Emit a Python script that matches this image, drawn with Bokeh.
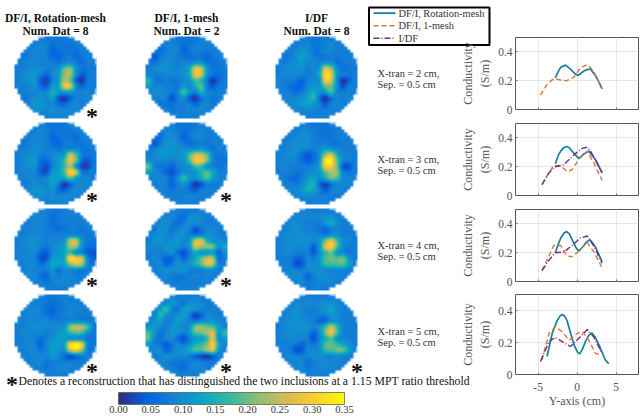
import numpy as np
from bokeh.plotting import figure
from bokeh.models import Range1d, LinearColorMapper, ColorBar, FixedTicker, NumeralTickFormatter
from bokeh.layouts import column
from bokeh.core.properties import value
from bokeh.embed import file_html
from bokeh.resources import INLINE

# ------------------------------------------------------------------ data
column_titles = ["DF/I, Rotation-mesh", "DF/I, 1-mesh", "I/DF"]
column_subtitles = ["Num. Dat = 8", "Num. Dat = 2", "Num. Dat = 8"]
row_labels = [["X-tran = 2 cm,", "Sep. = 0.5 cm"], ["X-tran = 3 cm,", "Sep. = 0.5 cm"],
              ["X-tran = 4 cm,", "Sep. = 0.5 cm"], ["X-tran = 5 cm,", "Sep. = 0.5 cm"]]
footnote = "Denotes a reconstruction that has distinguished the two inclusions at a 1.15 MPT ratio threshold"
colorbar_ticks = [0.00, 0.05, 0.10, 0.15, 0.20, 0.25, 0.30, 0.35]
series_names = ["DF/I, Rotation-mesh", "DF/I, 1-mesh", "I/DF"]

# conductivity reconstructions, in 0.01 S/m, top row first
disk_r1c1 = [
[8,8,8,8,8,7,7,7,7,8,8,8,8,8],[8,8,8,8,9,8,6,7,7,7,8,8,8,8],
[8,8,8,9,9,8,5,6,7,7,6,8,8,8],[8,7,8,9,9,8,6,5,7,8,6,7,8,8],
[8,8,9,9,8,8,8,7,9,10,8,6,8,8],[8,8,9,10,9,8,9,10,19,22,11,7,7,8],
[8,9,11,11,8,5,9,12,22,23,10,4,7,8],[8,9,10,10,4,2,8,12,23,20,5,1,7,8],
[8,8,9,10,6,4,11,13,27,27,10,5,8,8],[8,8,9,9,9,9,15,11,12,12,9,9,9,8],
[8,7,8,10,10,9,12,4,1,5,8,8,9,8],[8,8,9,11,11,9,9,6,5,8,9,8,8,8],
[8,8,9,10,10,9,10,9,9,9,9,8,8,8],[8,8,8,9,8,8,9,9,9,8,8,8,8,8]]
disk_r2c1 = [
[8,8,8,8,8,7,7,7,7,8,8,8,8,8],[8,8,8,8,9,8,6,7,7,7,8,8,8,8],
[8,8,8,9,9,8,5,6,7,7,6,8,8,8],[8,7,8,9,9,8,6,5,7,8,7,7,8,8],
[8,8,9,10,9,8,8,7,8,9,9,7,7,8],[8,9,10,10,8,8,9,10,12,25,18,8,7,8],
[8,9,11,11,6,5,9,12,17,28,20,6,4,7],[8,9,10,10,5,3,8,12,17,24,11,2,2,7],
[8,9,9,9,4,3,11,13,18,31,26,8,7,8],[8,8,9,9,8,9,13,12,13,19,12,9,9,8],
[8,8,8,10,9,9,12,8,1,5,9,9,9,8],[8,8,9,11,11,9,10,6,4,8,9,9,8,8],
[8,8,9,10,10,9,10,9,9,9,9,8,8,8],[8,8,8,9,8,8,9,9,9,8,8,8,8,8]]
disk_r3c1 = [
[8,8,8,8,8,8,7,7,8,8,8,8,8,8],[8,8,8,9,9,8,6,7,8,8,8,8,8,8],
[8,8,8,9,9,8,6,7,8,8,8,8,8,8],[8,8,8,9,9,8,7,6,7,8,8,7,8,8],
[8,8,9,9,9,8,8,8,8,9,9,8,7,8],[8,9,10,10,9,8,9,9,11,24,25,11,7,7],
[8,9,10,10,8,7,9,11,13,23,22,10,6,6],[8,8,9,9,5,4,9,11,13,17,10,8,4,3],
[8,9,9,8,3,4,11,12,14,32,29,26,9,5],[8,8,9,9,6,8,13,13,13,22,26,24,9,7],
[8,8,9,9,8,8,11,6,9,9,9,8,8,8],[8,8,9,9,6,5,9,8,9,9,8,8,8,8],
[8,8,8,8,8,7,8,9,9,9,8,8,8,8],[8,8,8,8,8,8,8,8,8,8,8,8,8,8]]
disk_r4c1 = [
[8,8,8,8,8,7,7,8,8,8,8,8,8,8],[8,8,8,8,8,7,6,7,8,8,8,8,8,8],
[8,8,9,9,8,6,5,7,8,9,8,8,8,8],[8,8,9,9,8,7,6,7,8,9,8,8,8,8],
[8,8,9,9,9,9,8,8,8,9,9,8,8,8],[8,8,9,10,10,9,9,10,11,21,24,23,18,8],
[8,9,9,9,9,8,9,11,12,17,19,18,10,7],[8,8,9,8,6,8,10,12,11,10,10,9,7,7],
[8,8,9,8,5,9,12,12,13,31,35,29,9,7],[8,8,9,9,7,9,12,11,10,25,30,22,8,7],
[8,8,8,9,9,9,11,9,6,3,6,8,8,8],[8,8,8,9,9,7,8,8,8,8,8,8,8,8],
[8,8,8,8,8,7,8,9,9,9,8,8,8,8],[8,8,8,8,8,8,8,8,8,8,8,8,8,8]]
disk_r1c2 = [
[8,8,8,8,8,7,7,7,7,8,8,8,8,8],[8,8,7,8,9,8,6,7,8,8,8,8,8,8],
[8,7,6,8,9,8,5,7,8,8,7,8,8,8],[7,3,7,9,9,8,7,6,7,7,5,7,8,8],
[7,7,9,10,9,8,9,9,11,11,7,6,7,8],[8,9,11,10,9,9,10,14,27,25,11,7,7,8],
[9,8,8,9,9,9,10,14,28,26,11,7,6,7],[16,8,7,8,7,7,9,11,18,16,7,1,5,8],
[12,9,9,8,8,7,11,9,14,19,8,4,7,8],[8,9,10,9,7,9,18,11,8,15,9,8,8,8],
[7,8,9,8,3,7,10,4,1,6,9,7,8,8],[8,8,7,7,6,8,8,8,5,8,9,7,8,8],
[8,8,8,8,7,8,8,9,9,9,8,8,8,8],[8,8,8,8,8,8,8,8,8,8,8,8,8,8]]
disk_r2c2 = [
[8,8,8,8,8,7,7,7,8,8,8,8,8,8],[8,8,7,9,9,8,6,7,8,9,8,8,8,8],
[8,7,6,9,10,8,5,7,9,9,8,8,8,8],[7,3,7,10,11,9,7,6,7,8,7,8,8,8],
[7,8,10,11,11,10,10,9,10,11,9,7,8,8],[8,9,11,11,10,10,11,18,25,25,19,9,7,8],
[10,9,9,9,8,9,11,18,29,29,21,9,7,7],[20,9,7,7,5,8,9,11,17,17,10,8,7,8],
[12,9,8,5,3,6,10,10,11,15,19,14,9,8],[8,9,9,8,5,10,17,11,10,14,18,12,9,8],
[7,8,9,8,5,8,10,7,1,3,8,8,8,8],[8,8,8,8,7,8,8,6,4,8,8,8,8,8],
[8,8,8,8,8,8,8,9,8,8,8,8,8,8],[8,8,8,8,8,8,8,8,8,8,8,8,8,8]]
disk_r3c2 = [
[8,8,8,8,8,8,7,8,8,8,8,8,8,8],[8,8,8,9,9,7,6,9,10,9,8,8,8,8],
[8,8,9,10,8,6,8,10,10,9,8,8,8,8],[8,7,10,10,7,8,10,8,3,7,9,9,8,8],
[8,9,11,9,8,10,10,8,7,8,10,10,8,8],[8,10,11,9,10,11,9,11,25,27,15,11,10,9],
[9,9,9,10,11,10,8,11,26,23,22,20,10,14],[8,8,8,9,10,6,3,8,14,12,11,12,5,10],
[8,9,8,5,5,9,5,9,14,19,24,24,6,9],[8,8,9,5,7,10,9,11,15,19,27,24,9,8],
[8,8,9,10,10,10,11,8,8,8,10,10,8,8],[8,7,8,9,8,7,7,8,9,8,9,8,8,8],
[8,8,8,8,8,7,8,8,8,8,8,8,8,8],[8,8,8,8,8,8,8,8,8,8,8,8,8,8]]
disk_r4c2 = [
[8,8,8,8,8,8,8,8,8,8,8,8,8,8],[8,8,8,10,11,9,7,10,10,9,8,8,8,8],
[8,8,12,17,9,7,11,12,10,9,8,8,8,8],[8,8,16,11,8,10,12,8,2,5,9,9,8,8],
[8,10,12,8,9,12,10,8,7,9,11,11,9,8],[10,12,9,8,11,11,9,10,21,22,20,18,12,9],
[18,11,7,8,11,10,8,11,19,20,23,27,12,17],[19,9,7,9,10,6,3,8,11,12,17,27,10,12],
[11,8,7,4,7,9,7,10,15,17,21,30,14,9],[9,9,10,5,7,10,11,14,18,18,22,26,11,8],
[8,8,9,10,10,9,9,8,5,3,1,5,8,8],[8,8,9,9,7,7,7,8,9,8,7,7,8,8],
[8,8,8,8,8,7,6,8,9,9,8,8,8,8],[8,8,8,8,8,8,8,8,8,8,8,8,8,8]]
disk_r1c3 = [
[8,8,8,8,8,8,7,7,8,8,8,8,8,8],[8,8,8,8,9,9,7,7,8,9,8,8,8,8],
[8,8,8,9,11,10,7,7,9,9,8,8,8,8],[8,7,8,10,13,10,8,7,7,8,7,8,8,8],
[8,8,9,10,11,9,9,9,11,10,7,7,8,8],[8,9,10,10,10,8,9,11,27,22,10,7,7,8],
[8,9,9,9,8,8,9,14,31,28,11,8,7,8],[9,8,8,7,5,8,9,11,29,26,10,1,4,8],
[9,8,6,5,5,9,11,11,19,20,10,3,8,8],[8,8,8,6,8,11,14,10,11,18,9,8,8,8],
[8,8,9,9,10,13,16,6,1,6,9,8,9,8],[8,8,9,10,11,13,11,8,4,8,9,8,8,8],
[8,8,8,9,9,9,9,8,8,8,8,8,8,8],[8,8,8,8,8,8,8,8,8,8,8,8,8,8]]
disk_r2c3 = [
[8,8,8,8,8,8,7,7,7,8,8,8,8,8],[8,8,8,8,9,9,8,7,6,7,8,8,8,8],
[8,8,8,9,10,10,8,7,7,7,8,8,8,8],[8,8,9,10,10,10,8,8,8,7,7,8,8,8],
[8,8,9,10,9,8,8,9,12,11,9,8,8,8],[8,9,10,9,6,4,6,10,22,26,15,9,8,8],
[8,9,9,8,6,4,6,11,32,34,20,9,8,8],[8,9,8,8,8,8,9,13,29,30,20,4,3,8],
[8,8,8,7,7,9,10,11,19,23,22,9,7,8],[8,8,6,5,8,11,13,10,14,20,18,9,9,8],
[8,8,8,7,9,13,15,6,2,6,9,9,9,8],[8,8,9,9,11,15,13,8,4,8,9,8,8,8],
[8,8,8,9,9,10,9,8,8,8,8,8,8,8],[8,8,8,8,8,8,8,8,8,8,8,8,8,8]]
disk_r3c3 = [
[8,8,8,8,8,8,8,8,8,8,8,8,8,8],[8,8,8,9,9,9,9,9,10,11,9,8,8,8],
[8,8,9,10,9,8,8,8,11,14,10,8,8,8],[8,8,9,10,9,8,8,7,5,8,9,8,8,8],
[8,9,10,10,10,9,9,8,8,10,10,8,8,8],[8,9,10,10,10,10,9,11,20,27,18,10,9,8],
[8,9,10,9,9,9,5,11,26,31,19,10,8,8],[8,9,9,8,8,8,4,10,17,20,11,9,7,8],
[8,8,8,5,5,9,8,11,18,20,19,20,11,8],[8,8,8,3,4,9,9,11,17,18,18,19,13,8],
[8,8,9,8,8,9,10,10,9,9,9,9,8,8],[8,8,9,9,9,5,8,10,10,9,9,8,8,8],
[8,8,8,9,9,7,8,9,9,9,8,8,8,8],[8,8,8,8,8,8,8,8,8,8,8,8,8,8]]
disk_r4c3 = [
[8,8,8,8,8,8,8,8,8,8,8,8,8,8],[8,8,8,9,9,9,9,9,10,10,9,8,8,8],
[8,8,9,10,9,8,8,9,11,13,10,8,8,8],[8,8,9,10,9,8,8,8,8,11,10,8,8,8],
[8,9,10,10,10,9,8,5,6,10,10,8,8,8],[8,9,10,10,10,10,9,10,17,25,17,9,8,8],
[8,9,10,9,9,9,5,9,20,28,18,9,8,8],[8,9,9,9,9,8,3,9,14,19,11,9,8,8],
[8,8,8,7,5,8,7,10,18,20,17,13,10,8],[8,8,8,3,4,9,9,10,17,18,20,20,13,8],
[8,8,9,8,8,9,10,10,9,9,10,9,8,8],[8,8,9,9,9,6,8,9,10,9,9,8,8,8],
[8,8,8,9,9,7,8,9,9,9,8,8,8,8],[8,8,8,8,8,8,8,8,8,8,8,8,8,8]]
disks = [[disk_r1c1, disk_r1c2, disk_r1c3], [disk_r2c1, disk_r2c2, disk_r2c3],
         [disk_r3c1, disk_r3c2, disk_r3c3], [disk_r4c1, disk_r4c2, disk_r4c3]]
# which reconstruction carries the star (row, column)
starred = [(0, 0), (1, 0), (2, 0), (3, 0), (1, 1), (2, 1), (3, 1), (3, 2)]

rot_x_1 = [-2.8,-2.4,-2.1,-1.5,-0.85,-0.3,0.1,0.45,0.85,1.3,1.7,2.35,2.8,3.2]
rot_y_1 = [0.22,0.265,0.294,0.308,0.28,0.25,0.236,0.25,0.267,0.277,0.281,0.236,0.19,0.144]
one_x_1 = [-4.7,-3.85,-3.0,-2.1,-1.3,-0.4,0.4,1.3,2.1,3.2]
one_y_1 = [0.10,0.175,0.215,0.205,0.20,0.225,0.287,0.312,0.267,0.144]
idf_x_1 = []
idf_y_1 = []
rot_x_2 = [-2.8,-2.4,-2.1,-1.7,-1.35,-1.0,-0.65,0.2,0.5,0.85,1.5,2.35,3.2]
rot_y_2 = [0.22,0.28,0.308,0.332,0.34,0.332,0.308,0.257,0.27,0.288,0.308,0.25,0.158]
one_x_2 = [-4.5,-3.85,-3.0,-2.1,-1.3,-0.65,0.2,1.3,2.1,3.2]
one_y_2 = [0.076,0.138,0.21,0.205,0.168,0.178,0.25,0.308,0.23,0.107]
idf_x_2 = [-4.5,-3.6,-2.8,-1.7,-0.65,0.4,0.9,1.3,1.7,2.1,3.2]
idf_y_2 = [0.076,0.158,0.20,0.213,0.27,0.32,0.332,0.333,0.31,0.27,0.158]
rot_x_3 = [-2.8,-2.4,-2.1,-1.7,-1.35,-1.0,-0.65,-0.2,0.2,0.85,1.3,1.7,2.35,3.2]
rot_y_3 = [0.20,0.26,0.302,0.335,0.347,0.33,0.292,0.24,0.21,0.25,0.28,0.288,0.24,0.138]
one_x_3 = [-4.5,-3.6,-3.0,-2.1,-1.3,-0.65,0.2,1.3,2.1,3.2]
one_y_3 = [0.076,0.178,0.25,0.25,0.178,0.172,0.21,0.27,0.21,0.096]
idf_x_3 = [-4.5,-3.6,-2.8,-1.7,-0.65,0.4,1.3,2.1,3.2]
idf_y_3 = [0.076,0.148,0.20,0.205,0.25,0.302,0.316,0.25,0.127]
rot_x_4 = [-3.85,-3.2,-2.55,-2.2,-1.9,-1.6,-1.3,-0.4,0.05,0.35,0.7,1.05,1.5,1.9,2.3,2.8,3.6,4.05]
rot_y_4 = [0.113,0.256,0.338,0.365,0.375,0.365,0.338,0.185,0.14,0.129,0.16,0.205,0.245,0.26,0.235,0.185,0.092,0.068]
one_x_4 = [-4.5,-3.6,-2.8,-1.9,-1.05,0.0,0.65,1.5,2.35,3.0]
one_y_4 = [0.092,0.256,0.298,0.267,0.215,0.256,0.27,0.215,0.133,0.123]
idf_x_4 = [-4.7,-3.6,-2.8,-1.9,-0.85,0.0,1.3,2.1,3.2]
idf_y_4 = [0.082,0.205,0.232,0.205,0.175,0.215,0.281,0.236,0.133]
panels = [(rot_x_1, rot_y_1, one_x_1, one_y_1, idf_x_1, idf_y_1),
          (rot_x_2, rot_y_2, one_x_2, one_y_2, idf_x_2, idf_y_2),
          (rot_x_3, rot_y_3, one_x_3, one_y_3, idf_x_3, idf_y_3),
          (rot_x_4, rot_y_4, one_x_4, one_y_4, idf_x_4, idf_y_4)]

# ------------------------------------------------------------------ styling / layout
W, H = 644, 416
SERIF = "Liberation Serif"
anchors = np.array([[53,42,135],[3,99,225],[20,133,212],[6,167,198],[56,185,158],
                    [146,191,115],[217,186,86],[252,206,46],[249,251,14]], float)
t = np.linspace(0, 1, 256)
pal = ["#%02x%02x%02x" % tuple(int(round(np.interp(v, np.linspace(0, 1, 9), anchors[:, c]))) for c in range(3)) for v in t]
mapper = LinearColorMapper(palette=pal, low=0.0, high=0.35, nan_color=(0, 0, 0, 0))

col_cx = [55, 186, 316]
row_cy = [77, 163, 249, 335]
R = 41
star_x = [91.5, 225.5, 356.5]
star_y = [115, 199, 284.5, 370]

main = figure(width=W, height=H, x_range=Range1d(0, W), y_range=Range1d(0, H),
              x_axis_type=None, y_axis_type=None, toolbar_location=None,
              output_backend="svg", min_border=0, outline_line_color=None,
              background_fill_color="white", border_fill_color="white", frame_align=False)
main.grid.visible = False

# display resampling of each coarse grid (cubic convolution) onto screen pixels
def resample(grid, n):
    a = np.asarray(grid, float)
    m0 = a.shape[0]
    pos = (np.arange(n) + 0.5) / n * m0 - 0.5
    i0 = np.floor(pos).astype(int)
    f = pos - i0
    w = [-0.5*f**3 + f**2 - 0.5*f, 1.5*f**3 - 2.5*f**2 + 1, -1.5*f**3 + 2*f**2 + 0.5*f, 0.5*f**3 - 0.5*f**2]
    idx = [np.clip(i0 + k, 0, m0 - 1) for k in (-1, 0, 1, 2)]
    b = sum(w[k][:, None] * a[idx[k], :] for k in range(4))
    c = sum(w[k][None, :] * b[:, idx[k]] for k in range(4))
    return c

# stair-stepped outside-of-disk mask, softened like the reference's edge
PX = 2 * R
N = 28
yy, xx = np.mgrid[0:N, 0:N]
outside = (np.hypot(xx + 0.5 - N / 2, yy + 0.5 - N / 2) > N / 2).astype(float)
rep = np.repeat(np.repeat(outside, 3, axis=0), 3, axis=1)[:PX, :PX]
ker = np.array([1, 2, 1]) / 4.0
soft = np.apply_along_axis(lambda v: np.convolve(np.pad(v, 1, mode="edge"), ker, "valid"), 0, rep)
soft = np.apply_along_axis(lambda v: np.convolve(np.pad(v, 1, mode="edge"), ker, "valid"), 1, soft)
mask = (np.round(soft * 255).astype(np.uint32) << 24) | np.uint32(0x00FFFFFF)
mask = np.where(soft == 0, 0, mask).astype(np.uint32)
cut = soft > 0.99

for r, cy in enumerate(row_cy):
    for c, cx in enumerate(col_cx):
        g = np.clip(np.flipud(resample(disks[r][c], PX)) / 100.0, 0, 0.35)
        g[cut] = np.nan
        main.image(image=[g], x=cx - R, y=H - cy - R, dw=2 * R, dh=2 * R, color_mapper=mapper)
        main.image_rgba(image=[mask], x=cx - R, y=H - cy - R, dw=2 * R, dh=2 * R)

def put(x, y, s, size, bold=False, align="left", color="#222222"):
    main.text(x=[x], y=[H - y], text=[s], text_font=value(SERIF), text_font_size=size,
              text_font_style="bold" if bold else "normal", text_align=align,
              text_baseline="middle", text_color=color)

for c in range(3):
    put(col_cx[c], 17, column_titles[c], "11.5px", True, "center", "#111111")
    put(col_cx[c], 30, column_subtitles[c], "11.5px", True, "center", "#111111")
for r, cy in enumerate(row_cy):
    put(377, cy - 4.5, row_labels[r][0], "10.5px", color="#333333")
    put(377, cy + 6.5, row_labels[r][1], "10.5px", color="#333333")
for r, c in starred:
    put(star_x[c], star_y[r], "*", "24px", True, "center", "#111111")
put(11.5, 383, "*", "24px", True, "center", "#111111")
put(18, 381, footnote, "11.75px", color="#111111")

cb = ColorBar(color_mapper=mapper, orientation="horizontal", location=(118, 1), width=226, height=12,
              ticker=FixedTicker(ticks=colorbar_ticks), padding=0, margin=0,
              major_tick_line_color=None, minor_tick_line_color=None,
              bar_line_color="#555533", bar_line_width=0.7,
              background_fill_alpha=0, border_line_color=None, label_standoff=1,
              major_label_text_font=SERIF, major_label_text_font_size="10.5px",
              major_label_text_color="#333333", formatter=NumeralTickFormatter(format="0.00"))
main.add_layout(cb)

TEAL, ORANGE, PURPLE = "#167f9c", "#d8773c", "#7a2a86"
STYLES = [dict(line_color=TEAL, line_width=1.7),
          dict(line_color=ORANGE, line_width=1.4, line_dash="5 3"),
          dict(line_color=PURPLE, line_width=1.4, line_dash="6 2 1 2")]

# legend key box, to the left of the first panel
main.quad(left=[368.5], right=[489], top=[H - 7], bottom=[H - 44.5], fill_color="white",
          line_color="black", line_width=2)
for name, style, ky in zip(series_names, STYLES, [12.7, 25.3, 37.7]):
    main.line([373, 395], [H - ky, H - ky], **style)
    put(398, ky, name, "10.4px", color="#333333")

frames = [(37, 118), (123, 204), (209, 290), (294, 376)]
figs = []
for k, (ft, fb) in enumerate(frames):
    left = 365
    bl = 515 - left
    bt = 2
    bb = 34 if k == 3 else 6
    p = figure(width=bl + 123 + 6, height=bt + (fb - ft) + bb, x_range=Range1d(-7.9, 7.87), y_range=Range1d(0, 0.5),
               toolbar_location=None, output_backend="svg", frame_align=False,
               min_border_left=bl, min_border_top=bt, min_border_bottom=bb, min_border_right=6,
               border_fill_color=None, background_fill_color="white",
               outline_line_color="#555555", outline_line_width=1)
    p.styles = {"position": "absolute", "left": f"{left}px", "top": f"{ft - bt}px"}
    p.xaxis.ticker = [-5, 0, 5]
    p.yaxis.ticker = [0, 0.2, 0.4]
    p.yaxis.major_label_overrides = {0: "0", 0.2: "0.2", 0.4: "0.4"}
    p.grid.grid_line_color = "#e6e6e6"
    for ax in (p.xaxis[0], p.yaxis[0]):
        ax.axis_line_color = None
        ax.major_tick_in = 2
        ax.major_tick_out = 0
        ax.major_tick_line_color = "#666666"
        ax.minor_tick_line_color = None
        ax.major_label_text_font = SERIF
        ax.major_label_text_font_size = "11.5px"
        ax.major_label_text_color = "#555555"
        ax.axis_label_text_font = SERIF
        ax.axis_label_text_font_style = "normal"
        ax.axis_label_text_font_size = "12px"
        ax.axis_label_text_color = "#555555"
    p.yaxis.major_label_standoff = 3
    p.yaxis.axis_label = "Conductivity\n(S/m)"
    p.yaxis.axis_label_standoff = 3
    if k == 3:
        p.xaxis.axis_label = "Y-axis (cm)"
        p.xaxis.axis_label_standoff = 0
        p.xaxis.major_label_standoff = 8
        p.xaxis.major_label_overrides = {-5: "-5", 0: "0", 5: "5"}
    else:
        p.xaxis.major_label_overrides = {-5: " ", 0: " ", 5: " "}
        p.xaxis.major_label_standoff = 0
    rx, ry, ox, oy, ix, iy = panels[k]
    p.line(rx, ry, **STYLES[0])
    p.line(ox, oy, **STYLES[1])
    p.line(ix, iy, **STYLES[2])
    figs.append(p)

main.styles = {"position": "absolute", "left": "0px", "top": "0px"}
root = column(main, *figs, width=W, height=H, styles={"position": "absolute", "left": "0px", "top": "0px"})
open("out.html", "w").write(file_html(root, INLINE))
